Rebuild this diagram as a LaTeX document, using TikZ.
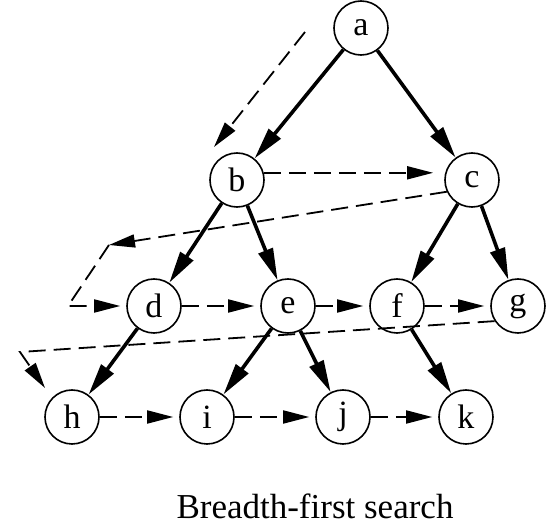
\documentclass[tikz,border=0pt]{standalone}
\usepackage{fontspec}
\setmainfont{Liberation Serif}
\usetikzlibrary{positioning,arrows.meta}

\tikzset{
	vert/.style={circle, draw, line width=0.8pt, minimum size=27pt, inner sep=0pt,
		font=\fontsize{17}{17}\selectfont},
	treeedge/.style={line width=1.8pt, -{Triangle[length=16pt,width=7.5pt]}},
	bfsedge/.style={line width=0.9pt, dash pattern=on 8.5pt off 4pt,
		-{Triangle[length=13pt,width=6.5pt]}, shorten >=3pt},
}

\begin{document}
\begin{tikzpicture}[x=0.5pt, y=-0.5pt, on grid]
	\useasboundingbox (0,0) rectangle (554,530);
	
	\node[vert] (a) at (361,28) {a};
	\node[vert, below left=76pt and 62pt of a] (b) {b};
	\node[vert, right=117.5pt of b] (c) {c};
	\node[vert, below left=63pt and 41.5pt of b] (d) {d};
	\node[vert, right=67pt of d] (e) {e};
	\node[vert, right=54.5pt of e] (f) {f};
	\node[vert, right=60.5pt of f] (g) {g};
	\node[vert, below left=55.5pt and 41pt of d] (h) {h};
	\node[vert, right=67.5pt of h] (i) {i};
	\node[vert, right=68pt of i] (j) {j};
	\node[vert, right=61.5pt of j] (k) {k};
	
	% turning points of the visiting order
	\coordinate (s1) at (305,32);
	\coordinate (s2) at (214,147);
	\coordinate (t1) at (109,245);
	\coordinate (t2) at (68,306);
	\coordinate (u1) at (20,352);
	\coordinate (u2) at (45,388);
	
	\node[anchor=base, font=\fontsize{17.5}{17.5}\selectfont] (title) at (315,519) {Breadth-first search};
	
	% tree
	\draw[treeedge] (a) -- (b);
	\draw[treeedge] (a) -- (c);
	\draw[treeedge] (b) -- (d);
	\draw[treeedge] (b) -- (e);
	\draw[treeedge] (c) -- (f);
	\draw[treeedge] (c) -- (g);
	\draw[treeedge] (d) -- (h);
	\draw[treeedge] (e) -- (i);
	\draw[treeedge] (e) -- (j);
	\draw[treeedge] (f) -- (k);
	
	% search order
	\draw[bfsedge, shorten >=0pt] (s1) -- (s2);
	\draw[bfsedge, shorten >=6pt] (b.15) -- (c.165);
	\draw[bfsedge, shorten >=0pt] (c.205) -- (t1);
	\draw[bfsedge] (t1) -- (t2) -- (d.west);
	\draw[bfsedge] (d) -- (e);
	\draw[bfsedge] (e) -- (f);
	\draw[bfsedge] (f) -- (g);
	\draw[bfsedge, shorten >=0pt] (g.213) -- (u1) -- (u2);
	\draw[bfsedge] (h) -- (i);
	\draw[bfsedge] (i) -- (j);
	\draw[bfsedge] (j) -- (k);
\end{tikzpicture}
\end{document}
